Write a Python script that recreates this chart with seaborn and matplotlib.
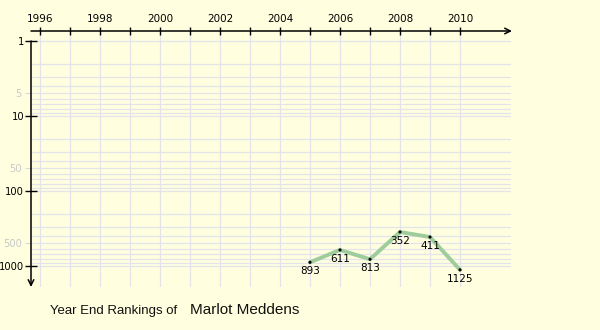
import matplotlib
matplotlib.use("Agg")
import matplotlib.pyplot as plt
import matplotlib.ticker as mticker
import seaborn as sns
import pandas as pd
import numpy as np

years = [2005, 2006, 2007, 2008, 2009, 2010]
ranks = [893, 611, 813, 352, 411, 1125]
major_year_ticks = [1996, 1998, 2000, 2002, 2004, 2006, 2008, 2010]
minor_year_ticks = list(range(1996, 2011))
rank_major = [1, 10, 100, 1000]
rank_minor = [5, 50, 500]
title_prefix = "Year End Rankings of"
player = "Marlot Meddens"

df = pd.DataFrame({"year": years, "rank": ranks})

sns.set_theme(style="white")
plt.rcParams['font.family'] = ['DejaVu Sans']

BG = "#ffffe0"
GRID = "#e3e3e9"
W, H = 600, 330
fig = plt.figure(figsize=(6, 3.3), dpi=100, facecolor=BG)

# axes placed in pixel coordinates: x from 31 to 512, y from 31 to 287
ax = fig.add_axes([31 / W, (H - 287) / H, 481 / W, 256 / H])
ax.set_facecolor(BG)
ax.set_yscale("log")
x0 = 1996 - 9 / 30
x1 = 1996 + 472 / 30
ax.set_xlim(x0, x1)
ax.set_ylim(10 ** (256 / 75 - 10 / 75), 10 ** (-10 / 75))

# grid lines
for yr in minor_year_ticks:
    ax.axvline(yr, color=GRID, lw=0.9, zorder=0)
hlines = [m * 10 ** d for d in range(0, 3) for m in range(1, 10)] + [1000]
for v in hlines:
    ax.plot([x0, 1996 + 470 / 30], [v, v], color=GRID, lw=0.9, zorder=0)

sns.lineplot(data=df, x="year", y="rank", ax=ax, color="#9fcc9b", lw=2.8, zorder=2)
sns.scatterplot(data=df, x="year", y="rank", ax=ax, color="black", s=5,
                marker="o", edgecolor="none", zorder=3)
for yr, r in zip(years, ranks):
    ax.annotate(str(r), (yr, r), xytext=(0, -6.5), textcoords="offset points",
                ha="center", va="center", fontsize=7.5, color="black", zorder=4)

for s in ax.spines.values():
    s.set_visible(False)

ax.set_xlabel("")
ax.set_ylabel("")

# top x axis
ax.xaxis.tick_top()
ax.xaxis.set_major_locator(mticker.FixedLocator(major_year_ticks))
ax.xaxis.set_minor_locator(mticker.FixedLocator(minor_year_ticks))
ax.xaxis.set_major_formatter(mticker.FixedFormatter([str(y) for y in major_year_ticks]))
ax.tick_params(axis="x", which="both", top=True, bottom=False, direction="inout",
               length=6, width=1, color="black", labelsize=7.5, pad=2, labelcolor="black")

# y axis
ax.yaxis.set_major_locator(mticker.FixedLocator(rank_major))
ax.yaxis.set_major_formatter(mticker.FixedFormatter([str(v) for v in rank_major]))
ax.yaxis.set_minor_locator(mticker.FixedLocator(rank_minor))
ax.yaxis.set_minor_formatter(mticker.FixedFormatter([str(v) for v in rank_minor]))
ax.tick_params(axis="y", which="major", left=True, direction="inout", length=9,
               width=1, color="black", labelsize=7.2, pad=0.5, labelcolor="black")
ax.tick_params(axis="y", which="minor", left=True, direction="out", length=4,
               width=0.8, color="#d8d8d8", labelsize=7.2, pad=2.5, labelcolor="#c8c8c8")

# axis lines with arrows
ax.annotate("", xy=(1.0, 1.0), xytext=(0.0, 1.0), xycoords="axes fraction",
            arrowprops=dict(arrowstyle="->", color="black", lw=1.1,
                            mutation_scale=10, shrinkA=0, shrinkB=0), annotation_clip=False)
ax.annotate("", xy=(0.0, 0.0), xytext=(0.0, 1.0 - 10 / 256), xycoords="axes fraction",
            arrowprops=dict(arrowstyle="->", color="black", lw=1.1,
                            mutation_scale=10, shrinkA=0, shrinkB=0), annotation_clip=False)

fig.text(50 / W, 1 - 311 / H, title_prefix, fontsize=9.5, va="center", ha="left",
         family=["Liberation Sans", "DejaVu Sans"], color="#111111")
fig.text(190 / W, 1 - 310 / H, player, fontsize=11, va="center", ha="left",
         family=["Liberation Sans", "DejaVu Sans"], color="#111111")

fig.savefig("out.png", dpi=100, facecolor=BG)
